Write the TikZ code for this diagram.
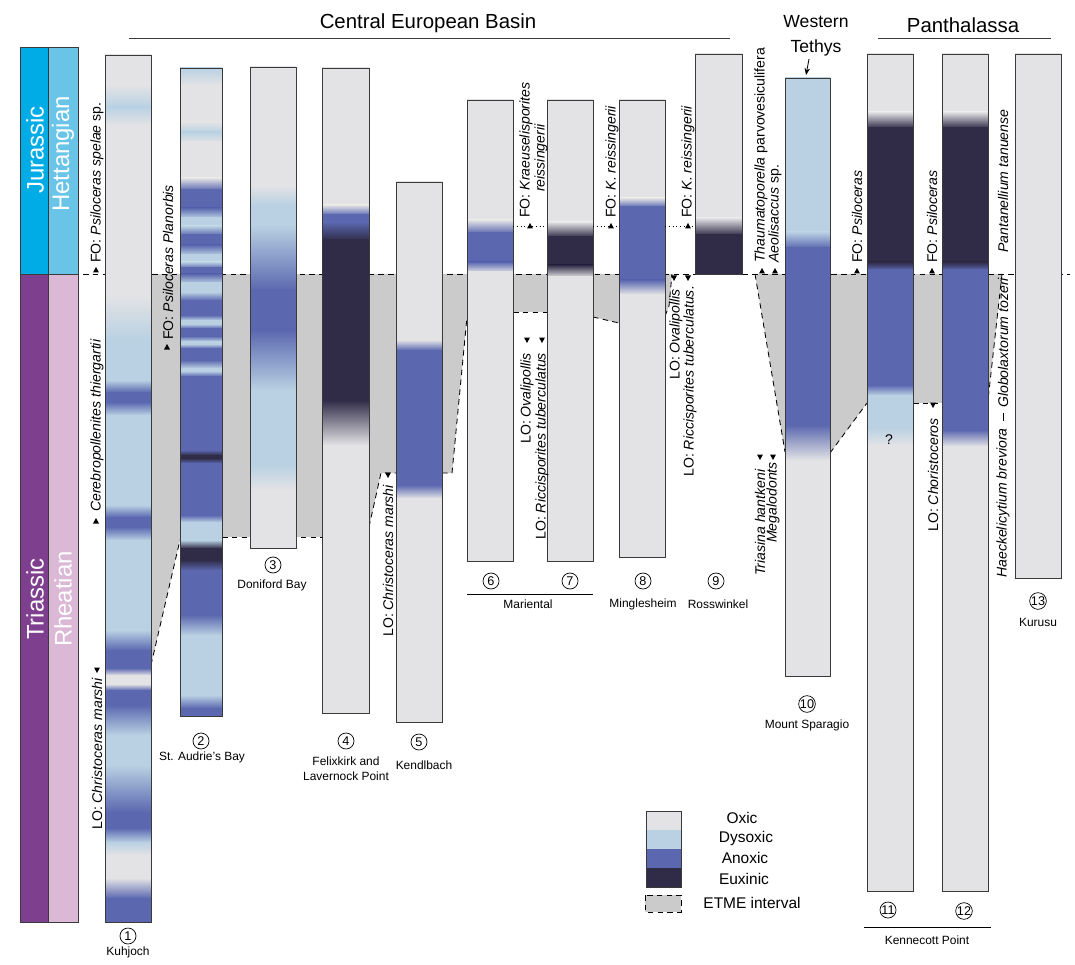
\documentclass[tikz,border=0pt]{standalone}
\usepackage{fontspec}
\setmainfont{Liberation Sans}
\usetikzlibrary{arrows.meta}
\definecolor{ox}{HTML}{E3E3E5}
\definecolor{dy}{HTML}{B9D1E3}
\definecolor{an}{HTML}{5B68B0}
\definecolor{eu}{HTML}{302C48}
\definecolor{etme}{HTML}{CBCBCB}
\definecolor{jur}{HTML}{00ACE6}
\definecolor{het}{HTML}{6AC4E8}
\definecolor{tri}{HTML}{7E3F8F}
\definecolor{rha}{HTML}{DAB8D6}
\definecolor{edge}{HTML}{3A3A3A}
% x1 x2 ytop ybot firstcolour list-of-stops
\newcommand{\colfill}[6]{%
  \foreach \yy/\cc [remember=\yy as \py (initially #3), remember=\cc as \pc (initially #5)] in {#6} {
    \shade[top color=\pc, bottom color=\cc] (#1,\py) rectangle (#2,\yy+0.4);
  }
  \draw[colbox] (#1,#3) rectangle (#2,#4);
}
\newcommand{\upm}[2]{\fill (#1-3,#2+2.5) -- (#1+3,#2+2.5) -- (#1,#2-3) -- cycle;}
\newcommand{\downm}[2]{\fill (#1-3,#2-2.5) -- (#1+3,#2-2.5) -- (#1,#2+3) -- cycle;}
\begin{document}
\begin{tikzpicture}[x=0.025cm,y=-0.025cm,
  colbox/.style={draw=edge, line width=0.6pt},
  etmeline/.style={line width=0.6pt, dash pattern=on 4pt off 3pt},
  rl/.style={rotate=90, anchor=west, inner sep=0pt, font=\fontsize{10}{11}\selectfont},
  num/.style={circle, draw, line width=0.5pt, minimum size=0.4cm, inner sep=0pt, font=\fontsize{9}{9}\selectfont},
  site/.style={inner sep=0pt, font=\fontsize{8.5}{10.5}\selectfont, align=center},
  period/.style={rotate=90, inner sep=0pt, text=white, font=\fontsize{17}{17}\selectfont},
  legtext/.style={inner sep=0pt, font=\fontsize{11}{12}\selectfont},
  grptitle/.style={inner sep=0pt, font=\fontsize{14.5}{16}\selectfont, align=center}]
\useasboundingbox[fill=white] (0,0) rectangle (1075,964);

% ---------- period / stage bars ----------
\fill[jur] (20,47) rectangle (48,274);
\fill[het] (48,47) rectangle (78,274);
\fill[tri] (20,274) rectangle (48,922);
\fill[rha] (48,274) rectangle (78,922);
\draw[colbox] (20,47) rectangle (48,922);
\draw[colbox] (48,47) rectangle (78,922);
\draw[colbox] (20,274) -- (78,274);
\node[period] (jurassic) at (35,150) {Jurassic};
\node[period] (hettangian) at (63,154) {Hettangian};
\node[period] (triassic) at (35,599) {Triassic};
\node[period] (rheatian) at (63,599) {Rheatian};

% ---------- ETME interval (grey) ----------
\fill[etme] (151,274) -- (180,274) -- (180,540) -- (151,665) -- cycle;
\fill[etme] (222,274) rectangle (322,537);
\fill[etme] (369,274) -- (396,274) -- (396,473) -- (381,473) -- (369,527) -- cycle;
\fill[etme] (442,274) -- (467,274) -- (467,317) -- (452,473) -- (442,473) -- cycle;
\fill[etme] (513,274) rectangle (547,312);
\fill[etme] (593,274) -- (619,274) -- (619,323) -- (593,317) -- cycle;
\fill[etme] (665,274) -- (672,274) -- (669,306) -- (665,316) -- cycle;
\fill[etme] (755,274) -- (785,274) -- (785,452) -- cycle;
\fill[etme] (830,274) -- (867,274) -- (867,403) -- (830,453) -- cycle;
\fill[etme] (913,274) rectangle (942,403);
\fill[etme] (988,274) -- (1002,274) -- (988,400) -- cycle;

\draw[etmeline] (83,274) -- (1070,274);
\draw[etmeline] (151,665) -- (180,540);
\draw[etmeline] (222,537) -- (322,537);
\draw[etmeline] (369,527) -- (381,473) -- (396,473);
\draw[etmeline] (442,473) -- (452,473) -- (467,317);
\draw[etmeline] (513,312) -- (547,312);
\draw[etmeline] (593,317) -- (619,323);
\draw[etmeline] (665,316) -- (669,306) -- (672,274);
\draw[etmeline] (755,274) -- (785,452);
\draw[etmeline] (830,453) -- (867,403);
\draw[etmeline] (913,403) -- (942,403);
\draw[etmeline] (1002,274) -- (988,400);

% ---------- sections ----------
% 1 Kuhjoch
\colfill{105}{151}{55}{922}{ox}{85/ox, 107/dy, 125/ox, 295/ox, 340/dy, 380/dy, 392/an, 402/an, 415/dy, 505/dy, 517/an, 527/an, 540/dy, 630/dy, 650/an, 668/an, 675/ox, 684/ox, 690/an, 705/an, 735/dy, 765/dy, 812/an, 828/an, 842/dy, 855/ox, 878/ox, 898/an, 922/an}
% 2 St. Audrie's Bay
\colfill{180}{222}{68}{716}{dy}{85/ox, 122/ox, 132/dy, 142/ox, 178/ox, 190/an, 208/an, 218/dy, 226/dy, 235/an, 245/an, 255/dy, 262/dy, 268/an, 274/an, 283/dy, 292/dy, 300/an, 315/an, 320/dy, 324/dy, 328/an, 336/an, 341/dy, 344/dy, 348/an, 360/an, 368/dy, 371/dy, 376/an, 450/an, 455/eu, 458/eu, 463/an, 515/an, 522/dy, 540/dy, 548/eu, 560/eu, 570/an, 615/an, 635/dy, 695/dy, 708/an, 716/an}
% 3 Doniford Bay
\colfill{250}{296}{67}{548}{ox}{185/ox, 205/dy, 225/dy, 290/an, 330/an, 390/dy, 465/dy, 490/ox, 548/ox}
% 4 Felixkirk and Lavernock Point
\colfill{322}{369}{68}{713}{ox}{205/ox, 215/an, 222/an, 240/eu, 400/eu, 445/ox, 713/ox}
% 5 Kendlbach
\colfill{396}{442}{182}{722}{ox}{340/ox, 350/an, 485/an, 498/ox, 722/ox}
% 6, 7 Mariental
\colfill{467}{513}{100}{561}{ox}{220/ox, 233/an, 262/an, 272/ox, 561/ox}
\colfill{547}{593}{100}{561}{ox}{222/ox, 237/eu, 265/eu, 277/ox, 561/ox}
% 8 Minglesheim
\colfill{619}{665}{100}{557}{ox}{198/ox, 207/an, 280/an, 294/ox, 557/ox}
% 9 Rosswinkel
\colfill{695}{742}{54}{274}{ox}{218/ox, 235/eu, 274/eu}
% 10 Mount Sparagio
\colfill{785}{830}{78}{676}{dy}{232/dy, 248/an, 425/an, 460/ox, 676/ox}
% 11, 12 Kennecott Point
\colfill{867}{913}{54}{891}{ox}{112/ox, 128/eu, 262/eu, 270/an, 385/an, 395/dy, 428/dy, 445/ox, 891/ox}
\colfill{942}{988}{54}{891}{ox}{112/ox, 128/eu, 262/eu, 270/an, 430/an, 446/ox, 891/ox}
% 13 Kurusu
\colfill{1015}{1061}{54}{578}{ox}{578/ox}
\node[inner sep=0pt, font=\fontsize{10}{10}\selectfont] (q11) at (889,440) {?};

% ---------- dotted FO lines ----------
\draw[dotted, line width=0.7pt] (513,226) -- (547,226);
\draw[dotted, line width=0.7pt] (593,226) -- (619,226);
\draw[dotted, line width=0.7pt] (665,226) -- (695,226);

% ---------- group titles ----------
\node[grptitle] (ceb) at (428,23) {Central European Basin};
\draw[line width=0.7pt, edge] (129,38) -- (730,38);
\node[grptitle, font=\fontsize{12.5}{17.5}\selectfont] (wt) at (816,36) {Western\\Tethys};
\coordinate (wtarrow) at (809,59);
\coordinate (c10top) at (806,75);
\draw[line width=0.6pt, -{Stealth[length=5pt,width=4pt]}] (wtarrow) -- (c10top);
\node[grptitle] (pan) at (963,25) {Panthalassa};
\draw[line width=0.7pt, edge] (878,38) -- (1051,38);

% ---------- biostratigraphic labels ----------
\upm{96}{270}
\node[rl] (l1) at (97,263) {FO: \textit{Psiloceras spelae} sp.};
\upm{96}{521}
\node[rl] (l2) at (97,512) {\textit{Cerebropollenites thiergartii}};
\downm{97}{670}
\node[rl] (l3) at (97,830) {LO: \textit{Christoceras marshi}};
\upm{167}{347}
\node[rl] (l4) at (168,340) {FO: \textit{Psiloceras Planorbis}};
\downm{388}{475}
\node[rl] (l5) at (388,637) {LO: \textit{Christoceras marshi}};
\upm{530}{226}
\node[rl] (l6) at (526,218) {FO: \textit{Kraeuselisporites}};
\node[rl] (l6b) at (541,192) {\textit{reissingerii}};
\downm{527}{340}
\node[rl] (l7) at (527,444) {LO: \textit{Ovalipollis}};
\downm{542}{340}
\node[rl] (l8) at (542,540) {LO: \textit{Riccisporites tuberculatus}};
\upm{611}{226}
\node[rl] (l9) at (612,218) {FO: \textit{K. reissingerii}};
\upm{688}{226}
\node[rl] (l10) at (688,218) {FO: \textit{K. reissingerii}};
\downm{674}{278}
\node[rl] (l11) at (676,380) {LO: \textit{Ovalipollis}};
\downm{688}{278}
\node[rl] (l12) at (690,477) {LO: \textit{Riccisporites tuberculatus.}};
\upm{762}{271}
\node[rl] (l13) at (761,263) {\textit{Thaumatoporella} parvovesiculifera};
\upm{775}{271}
\node[rl] (l14) at (775,263) {\textit{Aeolisaccus} sp.};
\upm{857}{271}
\node[rl] (l15) at (857,263) {FO: \textit{Psiloceras}};
\upm{932}{271}
\node[rl] (l16) at (932,263) {FO: \textit{Psiloceras}};
\node[rl] (l17) at (1003,253) {\textit{Pantanellium tanuense}};
\downm{760}{457}
\node[rl] (l18) at (760,576) {\textit{Triasina hantkeni}};
\downm{773}{457}
\node[rl] (l19) at (773,543) {\textit{Megalodonts}};
\downm{933}{405}
\node[rl] (l20) at (933,532) {LO: \textit{Choristoceros}};
\node[rl] (l21) at (1003,578) {\textit{Haeckelicytium breviora}};
\draw[line width=0.6pt] (1003,413) -- (1003,421);
\node[rl] (l22) at (1003,408) {\textit{Globolaxtorum tozeri}};

% ---------- section labels ----------
\node[num] (n1) at (128,936) {1};
\node[site] (s1) at (128,952) {Kuhjoch};
\node[num] (n2) at (201,741) {2};
\node[site] (s2) at (202,757) {St. Audrie's Bay};
\node[num] (n3) at (273,565) {3};
\node[site] (s3) at (272,585) {Doniford Bay};
\node[num] (n4) at (346,741) {4};
\node[site] (s4) at (346,769) {Felixkirk and\\Lavernock Point};
\node[num] (n5) at (419,742) {5};
\node[site] (s5) at (424,765) {Kendlbach};
\node[num] (n6) at (491,581) {6};
\node[num] (n7) at (570,581) {7};
\draw[line width=0.6pt] (467,594) -- (593,594);
\node[site] (s67) at (528,604) {Mariental};
\node[num] (n8) at (643,581) {8};
\node[site] (s8) at (643,604) {Minglesheim};
\node[num] (n9) at (716,581) {9};
\node[site] (s9) at (718,604) {Rosswinkel};
\node[num] (n10) at (807,704) {10};
\node[site] (s10) at (807,725) {Mount Sparagio};
\node[num] (n11) at (888,910) {11};
\node[num] (n12) at (964,911) {12};
\draw[line width=0.6pt] (864,927) -- (991,927);
\node[site] (s1112) at (927,940) {Kennecott Point};
\node[num] (n13) at (1038,601) {13};
\node[site] (s13) at (1038,622) {Kurusu};

% ---------- legend ----------
\fill[ox] (646,811) rectangle (681,830);
\fill[dy] (646,830) rectangle (681,849);
\fill[an] (646,849) rectangle (681,868);
\fill[eu] (646,868) rectangle (681,887);
\draw[colbox] (646,811) rectangle (681,887);
\draw[etmeline, fill=etme] (645,895) rectangle (681,912);
\node[legtext] (lox) at (742,818) {Oxic};
\node[legtext] (ldy) at (746,838) {Dysoxic};
\node[legtext] (lan) at (745,858) {Anoxic};
\node[legtext] (leu) at (744,879) {Euxinic};
\node[legtext] (let) at (752,903) {ETME interval};
\end{tikzpicture}
\end{document}
